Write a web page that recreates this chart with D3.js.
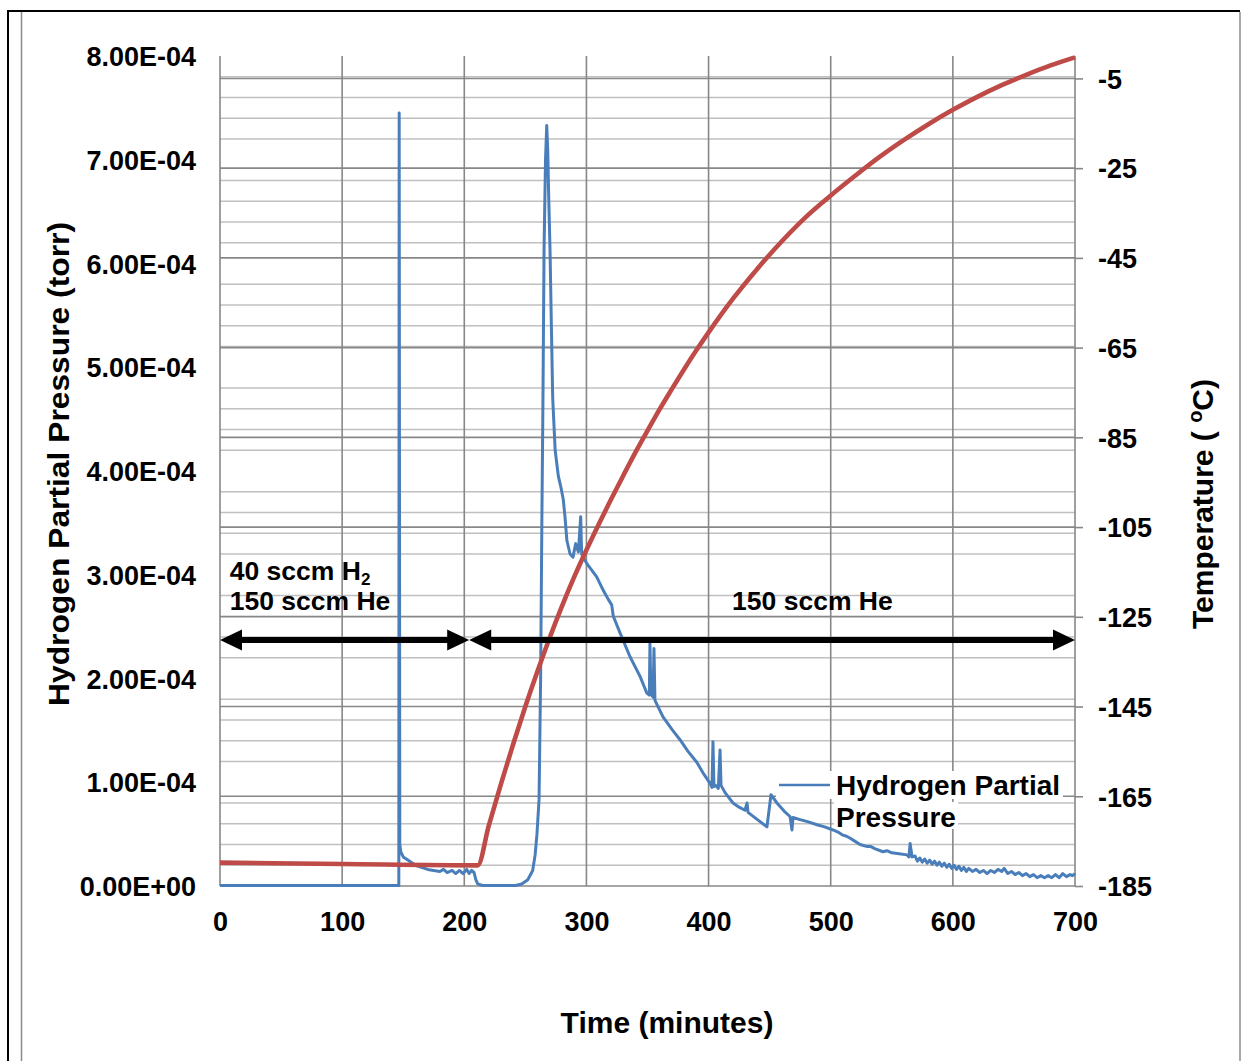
<!DOCTYPE html>
<html>
<head>
<meta charset="utf-8">
<script src="https://cdn.jsdelivr.net/npm/d3@7"></script>
<style>
  body { margin: 0; background: #fff; }
  svg { display: block; font-family: Arial, "Liberation Sans", sans-serif; font-weight: bold; }
</style>
</head>
<body>
<div id="chart"></div>
<script>
// axis ticks
var timeTicks = [0, 100, 200, 300, 400, 500, 600, 700];
var pressureTicks = [0, 1e-4, 2e-4, 3e-4, 4e-4, 5e-4, 6e-4, 7e-4, 8e-4];
var tempTicks = [-185, -165, -145, -125, -105, -85, -65, -45, -25, -5];

// hydrogen partial pressure, [minutes, pressure in 1e-4 torr]
var h2Points = [
  [0, 0.005], [146.4, 0.005], [146.7, 7.45], [147.2, 0.40], [148, 0.33], [150, 0.28],
  [155, 0.24], [160, 0.20], [165, 0.18], [170, 0.16], [175, 0.15], [180, 0.14],
  [183, 0.16], [186, 0.13], [190, 0.15], [193, 0.12], [196, 0.15], [199, 0.12],
  [202, 0.16], [204, 0.12], [206, 0.15], [208, 0.13], [209.5, 0.06], [211, 0.02],
  [215, 0.005], [242, 0.005], [247, 0.02], [252, 0.06], [256, 0.15], [258, 0.30],
  [259.5, 0.50], [261.2, 0.83], [262.5, 2.0], [263.5, 3.5], [264.4, 4.68], [265.3, 6.13],
  [266.5, 7.0], [267.5, 7.33], [268.3, 7.1], [269.2, 6.6], [270.2, 6.13], [271.3, 5.4],
  [272.4, 4.7], [274.4, 4.2], [277, 3.95], [279, 3.85], [281.1, 3.72], [282.5, 3.55],
  [284, 3.33], [286.6, 3.2], [289, 3.17], [291.2, 3.3], [293.4, 3.22], [295.3, 3.56],
  [296.1, 3.2], [300.2, 3.11], [304, 3.05], [308.4, 2.98], [312.5, 2.88], [315.2, 2.82],
  [318, 2.76], [320.7, 2.71], [322, 2.6], [327.5, 2.44], [335.7, 2.21], [343.9, 2.02],
  [349.4, 1.86], [351.5, 1.84], [352, 2.34], [352.8, 1.85], [354.6, 1.82], [355.3, 2.29],
  [356.1, 1.79], [362.7, 1.63], [370, 1.51], [376.6, 1.41], [383, 1.30], [390.5, 1.19],
  [396, 1.08], [401.2, 0.99], [402.8, 0.95], [403.6, 1.39], [404.4, 0.96], [405.8, 0.97],
  [408, 0.94], [409.4, 1.31], [410.2, 0.97], [413.5, 0.90], [420, 0.80], [425, 0.76],
  [429.8, 0.73], [431.5, 0.80], [432.3, 0.71], [440, 0.64], [447.8, 0.57], [451.1, 0.88],
  [456, 0.80], [462, 0.72], [466.7, 0.67], [468.3, 0.54], [469.1, 0.66], [474.9, 0.64],
  [481, 0.62], [488.8, 0.59], [495, 0.57], [501.9, 0.54], [506, 0.52], [510, 0.49],
  [513, 0.48], [516, 0.46], [520, 0.43], [524, 0.40], [530, 0.38], [533, 0.38], [536, 0.36],
  [542.8, 0.33], [546, 0.34], [550, 0.32], [556, 0.31], [562.5, 0.30], [564, 0.28],
  [565, 0.41], [566.6, 0.28], [569, 0.29], [571, 0.24], [573, 0.27], [575, 0.23],
  [577, 0.26], [579, 0.22], [581, 0.25], [583, 0.21], [585, 0.24], [587, 0.20],
  [589, 0.23], [591, 0.19], [593, 0.22], [595, 0.18], [597, 0.21], [599, 0.17],
  [601, 0.20], [603, 0.16], [605, 0.19], [607, 0.15], [609, 0.18], [611, 0.14],
  [613, 0.17], [616, 0.14], [619, 0.16], [622, 0.13], [625, 0.15], [628, 0.12],
  [631, 0.15], [634, 0.13], [637, 0.16], [640, 0.14], [642, 0.17], [645, 0.12],
  [648, 0.14], [651, 0.11], [654, 0.13], [657, 0.10], [660, 0.12], [663, 0.09],
  [666, 0.11], [669, 0.08], [672, 0.10], [675, 0.08], [678, 0.10], [681, 0.08],
  [684, 0.11], [687, 0.08], [690, 0.12], [693, 0.09], [696, 0.11], [698, 0.10], [700, 0.12]
];

// temperature, [minutes, deg C]
var tempPoints = [
  [0, -179.8], [100, -180.1], [211, -180.4],
  [220, -171.6], [230, -162.3], [240, -153.4], [250, -145.0], [260, -137.1],
  [270, -129.6], [280, -122.6], [290, -116.1], [300, -110.1], [310, -104.4],
  [320, -98.9], [330, -93.6], [340, -88.4], [350, -83.5], [360, -78.7],
  [370, -74.2], [380, -69.8], [390, -65.6], [400, -61.6], [420, -54.1],
  [440, -47.4], [460, -41.3], [480, -35.8], [500, -31.1], [520, -26.7],
  [540, -22.5], [560, -18.7], [580, -15.2], [600, -12.0], [620, -9.1],
  [640, -6.5], [660, -4.2], [680, -2.1], [700, -0.3]
];

// gas flow periods, [start, end] in minutes
var flowPeriods = [[0, 204], [204, 700]];

var W = 1244, H = 1061;
var svg = d3.select("#chart").append("svg")
  .attr("width", W)
  .attr("height", H);

// outer frame
svg.append("path").attr("d", "M8,1061V11H1240").attr("fill", "none").attr("stroke", "#000").attr("stroke-width", 2);
svg.append("line").attr("x1", 21.5).attr("x2", 21.5).attr("y1", 12).attr("y2", H).attr("stroke", "#8c8c8c").attr("stroke-width", 1.5);
svg.append("line").attr("x1", 1240).attr("x2", 1240).attr("y1", 12).attr("y2", H).attr("stroke", "#8c8c8c").attr("stroke-width", 1.5);

// scales
var x = d3.scaleLinear().domain([0, 700]).range([220, 1075]);
var yL = d3.scaleLinear().domain([0, 8e-4]).range([886, 56]);
var yR = d3.scaleLinear().domain([-185, 0]).range([886, 56]);

var dark = "#878787", light = "#c0c0c0";

// minor gridlines of the pressure axis (every 2e-5, majors are not drawn)
var minor = d3.range(1, 40).filter(function(i) { return i % 5 !== 0; }).map(function(i) { return i * 2e-5; });
svg.append("g").selectAll("line")
  .data(minor)
  .enter().append("line")
  .attr("x1", x(0)).attr("x2", x(700))
  .attr("y1", function(d) { return yL(d); })
  .attr("y2", function(d) { return yL(d); })
  .attr("stroke", light).attr("stroke-width", 1.4);

// temperature major gridlines
svg.append("g").selectAll("line")
  .data(tempTicks.slice(1))
  .enter().append("line")
  .attr("x1", x(0)).attr("x2", x(700))
  .attr("y1", function(d) { return yR(d); })
  .attr("y2", function(d) { return yR(d); })
  .attr("stroke", dark).attr("stroke-width", 1.6);

// vertical gridlines
svg.append("g").selectAll("line")
  .data(timeTicks)
  .enter().append("line")
  .attr("x1", function(d) { return x(d); })
  .attr("x2", function(d) { return x(d); })
  .attr("y1", yL(8e-4)).attr("y2", yL(0))
  .attr("stroke", dark).attr("stroke-width", 1.6);

svg.append("line")
  .attr("x1", x(0)).attr("x2", x(700))
  .attr("y1", yL(0)).attr("y2", yL(0))
  .attr("stroke", dark).attr("stroke-width", 1.6);

// tick label format like 8.00E-04
function sci(v) {
  if (v === 0) return "0.00E+00";
  var e = Math.floor(Math.log10(v) + 1e-9);
  var m = v / Math.pow(10, e);
  var s = e < 0 ? "-" : "+";
  return m.toFixed(2) + "E" + s + (Math.abs(e) < 10 ? "0" : "") + Math.abs(e);
}

// axes
var gl = svg.append("g")
  .attr("transform", "translate(" + x(0) + ",0)")
  .call(d3.axisLeft(yL).tickValues(pressureTicks).tickFormat(sci).tickSize(0).tickPadding(24));
gl.select(".domain").remove();

var gb = svg.append("g")
  .attr("transform", "translate(0," + yL(0) + ")")
  .call(d3.axisBottom(x).tickValues(timeTicks).tickFormat(function(d) { return String(d); }).tickSize(0).tickPadding(26));
gb.select(".domain").remove();

var gr = svg.append("g")
  .attr("transform", "translate(" + x(700) + ",0)")
  .call(d3.axisRight(yR).tickValues(tempTicks).tickFormat(function(d) { return String(d); }).tickSize(8).tickPadding(15));
gr.select(".domain").remove();
gr.selectAll(".tick line").attr("stroke", dark).attr("stroke-width", 1.6);

svg.selectAll(".tick text")
  .attr("font-family", "Arial, 'Liberation Sans', sans-serif")
  .attr("font-weight", "bold")
  .attr("font-size", 27)
  .attr("fill", "#000");
gl.selectAll(".tick text").attr("dy", "0.36em");
gr.selectAll(".tick text").attr("dy", "0.36em");

// series
var h2Line = d3.line()
  .x(function(d) { return x(d[0]); })
  .y(function(d) { return yL(d[1] * 1e-4); });
var tempLine = d3.line()
  .x(function(d) { return x(d[0]); })
  .y(function(d) { return yR(d[1]); })
  .curve(d3.curveMonotoneX);

svg.append("path")
  .datum(h2Points)
  .attr("d", h2Line)
  .attr("fill", "none")
  .attr("stroke", "#4a7ebb")
  .attr("stroke-width", 3)
  .attr("stroke-linejoin", "round");

svg.append("path")
  .datum(tempPoints)
  .attr("d", tempLine)
  .attr("fill", "none")
  .attr("stroke", "#be4b48")
  .attr("stroke-width", 4.6)
  .attr("stroke-linejoin", "round");

// double-headed arrows for the flow periods
var arrowY = yL(2.37e-4);
var arrows = svg.append("g");
flowPeriods.forEach(function(p) {
  var a = x(p[0]), b = x(p[1]);
  arrows.append("line")
    .attr("x1", a + 10).attr("x2", b - 10)
    .attr("y1", arrowY).attr("y2", arrowY)
    .attr("stroke", "#000").attr("stroke-width", 6);
  arrows.append("path")
    .attr("d", "M" + a + "," + arrowY + "L" + (a + 22) + "," + (arrowY - 10.5) + "L" + (a + 22) + "," + (arrowY + 10.5) + "Z")
    .attr("fill", "#000");
  arrows.append("path")
    .attr("d", "M" + b + "," + arrowY + "L" + (b - 22) + "," + (arrowY - 10.5) + "L" + (b - 22) + "," + (arrowY + 10.5) + "Z")
    .attr("fill", "#000");
});

// flow labels
var t1 = svg.append("text")
  .attr("x", x(8)).attr("y", yL(2.95e-4))
  .attr("font-size", 26.5);
t1.append("tspan").text("40 sccm H");
t1.append("tspan").attr("font-size", 17).attr("dy", 5).text("2");
svg.append("text")
  .attr("x", x(8)).attr("y", yL(2.66e-4))
  .attr("font-size", 26.5)
  .text("150 sccm He");
svg.append("text")
  .attr("x", x(485)).attr("y", yL(2.66e-4))
  .attr("font-size", 26.5)
  .attr("text-anchor", "middle")
  .text("150 sccm He");

// legend
var lg = svg.append("g");
lg.append("rect").attr("x", 776).attr("y", 771).attr("width", 287).attr("height", 28).attr("fill", "#fff");
lg.append("rect").attr("x", 834).attr("y", 802).attr("width", 124).attr("height", 27).attr("fill", "#fff");
lg.append("line")
  .attr("x1", 779).attr("x2", 830).attr("y1", 785).attr("y2", 785)
  .attr("stroke", "#4a7ebb").attr("stroke-width", 2.6);
lg.append("text").attr("x", 836).attr("y", 794.5).attr("font-size", 28).text("Hydrogen Partial");
lg.append("text").attr("x", 836).attr("y", 826.5).attr("font-size", 28).text("Pressure");

// axis titles
svg.append("text")
  .attr("transform", "translate(69," + 464 + ") rotate(-90)")
  .attr("text-anchor", "middle")
  .attr("font-size", 30)
  .attr("textLength", 484)
  .attr("lengthAdjust", "spacingAndGlyphs")
  .text("Hydrogen Partial Pressure (torr)");

var rt = svg.append("text")
  .attr("transform", "translate(1213," + 504 + ") rotate(-90)")
  .attr("text-anchor", "middle")
  .attr("font-size", 30);
rt.append("tspan").text("Temperature ( ");
rt.append("tspan").attr("font-size", 20).attr("dy", -11).text("o");
rt.append("tspan").attr("dy", 11).text("C)");

svg.append("text")
  .attr("x", 667).attr("y", 1033)
  .attr("text-anchor", "middle")
  .attr("font-size", 30)
  .text("Time (minutes)");
</script>
</body>
</html>
